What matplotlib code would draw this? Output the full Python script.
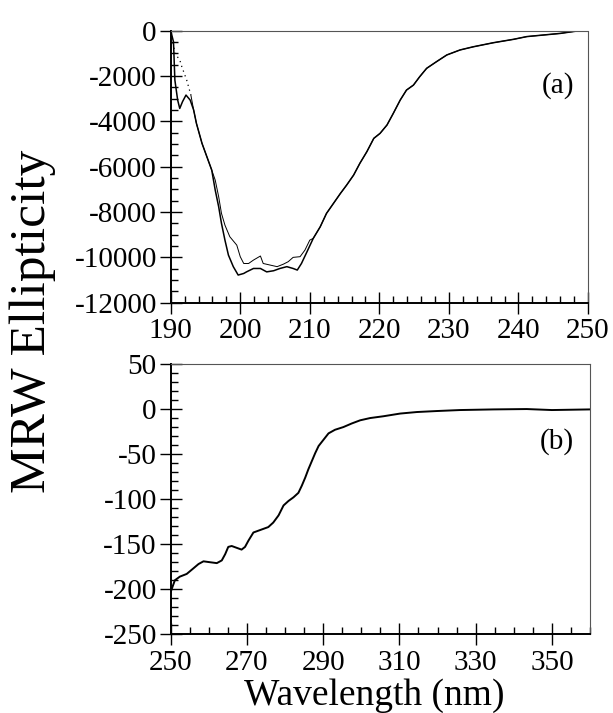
import matplotlib
matplotlib.use("Agg")
import matplotlib.pyplot as plt
from matplotlib.ticker import MultipleLocator

# ---------------- data ----------------
# panel (a): far-UV CD, two traces
wl_a1 = [190.1, 190.4, 190.6, 191.0, 191.3, 191.7, 192.2, 192.8, 193.3, 193.7, 194.5,
         195.2, 195.9, 196.4, 196.9, 197.3, 197.8, 198.3, 199.0, 199.7, 200.5, 200.9,
         201.9, 202.9, 203.8, 204.8, 205.7, 206.7, 207.6, 208.2, 208.8, 209.6, 210.5,
         211.5, 212.4, 213.4, 214.4, 215.3, 216.3, 217.2, 218.2, 219.2, 220.1, 221.1,
         222.0, 223.0, 223.9, 224.9, 225.8, 226.8, 228.2, 229.7, 231.6, 233.5, 236.4,
         239.3, 241.2, 243.6, 246.0, 248.4, 249.9]
mrw_a1 = [-120, -490, -2180, -3060, -3430, -3130, -2840, -3060, -3500, -4090, -4970,
          -5560, -6150, -7030, -7770, -8500, -9240, -9900, -10410, -10780, -10710, -10640,
          -10490, -10490, -10640, -10590, -10490, -10410, -10490, -10560, -10270, -9750, -9160,
          -8650, -8060, -7620, -7180, -6810, -6370, -5850, -5340, -4750, -4530, -4160,
          -3650, -3060, -2620, -2400, -2030, -1660, -1370, -1070, -850, -710, -530,
          -380, -260, -190, -120, -15, 0]

wl_a2 = [190.1, 190.6, 191.3, 191.6, 192.3, 192.9, 193.3, 193.7, 194.5, 195.2, 195.9,
         196.4, 196.9, 197.3, 197.8, 198.5, 199.5, 200.0, 200.5, 201.2, 201.9, 202.9,
         203.3, 204.3, 205.3, 206.2, 206.9, 207.6, 208.6, 209.3, 210.0, 210.5, 211.5,
         212.4, 213.4, 214.4, 215.3, 216.3, 217.2, 218.2, 219.2, 220.1, 221.1, 222.0,
         223.0, 223.9, 224.9, 225.8, 226.8, 228.2, 229.7, 231.6, 233.5, 236.4, 239.3,
         241.2, 243.6, 246.0, 248.4, 249.9]
mrw_a2 = [-100, -1000, -1290, -1590, -2180, -2840, -3500, -4090, -4970, -5560, -6150,
          -6590, -7330, -8060, -8580, -9090, -9460, -9970, -10270, -10270, -10120, -9940,
          -10270, -10340, -10410, -10300, -10190, -10000, -9970, -9680, -9240, -9160, -8650,
          -8060, -7620, -7180, -6810, -6370, -5850, -5340, -4750, -4530, -4160, -3650,
          -3060, -2620, -2400, -2030, -1660, -1370, -1070, -850, -710, -530, -380,
          -260, -190, -120, -15, 0]

# panel (b): near-UV CD
wl_b = [250.0, 250.5, 251.1, 252.4, 254.2, 255.9, 257.3, 258.6, 260.3, 262.1, 263.4,
        264.3, 265.1, 266.0, 267.3, 268.6, 269.5, 270.4, 271.7, 273.0, 274.3, 275.6,
        276.9, 278.3, 279.6, 280.9, 282.2, 283.5, 284.4, 285.3, 286.1, 287.0, 287.9,
        288.8, 290.1, 291.4, 293.1, 295.3, 297.5, 299.7, 302.3, 305.8, 310.2, 314.6,
        319.8, 325.9, 334.7, 343.4, 350.0, 360.0]
mrw_b = [-203, -197, -190, -186, -183, -177, -172, -169, -170, -171, -168,
         -161, -153, -152, -154, -156, -153, -146, -137, -135, -133, -131,
         -126, -118, -107, -102, -98, -93, -85, -76, -67, -58, -49,
         -41, -34, -27, -23, -20, -16, -12.5, -10, -8, -5, -3.3,
         -2.2, -1.1, -0.4, 0, -1.1, -0.4]

xticks_a = [190, 200, 210, 220, 230, 240, 250]
yticks_a = [0, -2000, -4000, -6000, -8000, -10000, -12000]
xticks_b = [250, 270, 290, 310, 330, 350]
yticks_b = [50, 0, -50, -100, -150, -200, -250]

# ---------------- style ----------------
plt.rcParams['font.family'] = ['Liberation Serif', 'DejaVu Serif']
plt.rcParams['axes.unicode_minus'] = False

fig = plt.figure(figsize=(6.13, 7.13), dpi=100)
W, H = 613.0, 713.0
ax_a = fig.add_axes([170.7 / W, 1 - 302.7 / H, 417.3 / W, 272.0 / H])
ax_b = fig.add_axes([170.7 / W, 1 - 634.3 / H, 419.3 / W, 270.3 / H])

n_dot = 6  # the first few points of trace 2 are drawn dotted
ax_a.plot(wl_a2[:n_dot], mrw_a2[:n_dot], color='black', lw=0.9, ls=(0, (1, 3)))
ax_a.plot(wl_a2[n_dot - 1:], mrw_a2[n_dot - 1:], color='black', lw=0.7)
ax_a.plot(wl_a1, mrw_a1, color='black', lw=1.1)
ax_b.plot(wl_b, mrw_b, color='black', lw=1.4)


def style(ax, xt, yt, xminor, yminor, xlim, ylim):
    ax.set_xlim(*xlim)
    ax.set_ylim(*ylim)
    ax.set_xticks(xt)
    ax.set_yticks(yt)
    ax.xaxis.set_minor_locator(MultipleLocator(xminor))
    ax.yaxis.set_minor_locator(MultipleLocator(yminor))
    ax.tick_params(which='major', direction='inout', length=16, width=1.0,
                   labelsize=21, pad=3)
    ax.tick_params(which='minor', direction='in', length=5, width=1.0)
    ax.tick_params(axis='y', pad=2)
    for s in ('left', 'bottom'):
        ax.spines[s].set_linewidth(1.4)
        ax.spines[s].set_color('black')
    for s in ('top', 'right'):
        ax.spines[s].set_linewidth(0.8)
        ax.spines[s].set_color('#555555')
        ax.spines[s].set_linestyle((0, (4, 1)))


style(ax_a, xticks_a, yticks_a, 2, 500, (190, 250), (-12000, 0))
style(ax_b, xticks_b, yticks_b, 5, 10, (250, 360), (-250, 50))

ax_a.text(0.929, 0.80, '(a)', transform=ax_a.transAxes, fontsize=21,
          ha='center', va='center')
ax_b.text(0.92, 0.713, '(b)', transform=ax_b.transAxes, fontsize=21,
          ha='center', va='center')

fig.text(374 / W, 1 - 705 / H, 'Wavelength (nm)', fontsize=27,
         ha='center', va='baseline')
fig.text(33 / W, 1 - 321 / H, 'MRW Ellipticity', rotation=90, fontsize=37,
         ha='center', va='center')

fig.savefig('out.png', dpi=100)
